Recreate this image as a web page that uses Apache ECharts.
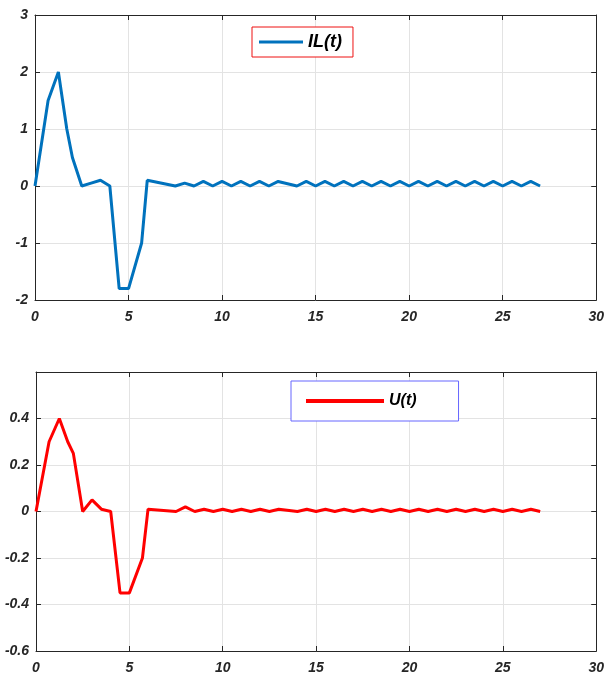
<!DOCTYPE html>
<html>
<head>
<meta charset="utf-8">
<script src="https://cdn.jsdelivr.net/npm/echarts@6/dist/echarts.min.js"></script>
<style>
  html, body { margin: 0; padding: 0; background: #fff; }
  #main { width: 607px; height: 675px; }
</style>
</head>
<body>
<div id="main"></div>
<script>
// time samples (shared by both plots)
const timeT = [0, 0.7, 1.25, 1.7, 2, 2.5, 3, 3.5, 4, 4.5, 5, 5.7, 6, 7.5, 8, 8.5,
  9, 9.5, 10, 10.5, 11, 11.5, 12, 12.5, 13, 14, 14.5, 15, 15.5, 16, 16.5, 17,
  17.5, 18, 18.5, 19, 19.5, 20, 20.5, 21, 21.5, 22, 22.5, 23, 23.5, 24, 24.5,
  25, 25.5, 26, 26.5, 27];
// IL(t)
const ilValues = [0, 1.5, 2, 1, 0.5, 0, 0.05, 0.1, 0, -1.8, -1.8, -1, 0.1, 0, 0.05, 0,
  0.08, 0, 0.08, 0, 0.08, 0, 0.08, 0, 0.08, 0, 0.08, 0, 0.08, 0, 0.08, 0,
  0.08, 0, 0.08, 0, 0.08, 0, 0.08, 0, 0.08, 0, 0.08, 0, 0.08, 0, 0.08,
  0, 0.08, 0, 0.08, 0];
// U(t)
const uValues = [0, 0.3, 0.4, 0.3, 0.25, 0, 0.05, 0.01, 0, -0.35, -0.35, -0.2, 0.01, 0, 0.02, 0,
  0.01, 0, 0.01, 0, 0.01, 0, 0.01, 0, 0.01, 0, 0.01, 0, 0.01, 0, 0.01, 0,
  0.01, 0, 0.01, 0, 0.01, 0, 0.01, 0, 0.01, 0, 0.01, 0, 0.01, 0, 0.01,
  0, 0.01, 0, 0.01, 0];
const xTicks = { min: 0, max: 30, interval: 5 };
const ilTicks = { min: -2, max: 3, interval: 1 };
const uTicks = { min: -0.6, max: 0.6, interval: 0.2 };

const myChart = echarts.init(document.getElementById("main"), null, { renderer: "canvas" });

const axisColor = "#262626";
const labelStyle = {
  color: axisColor,
  fontFamily: "Liberation Sans, Arial, sans-serif",
  fontWeight: "bold",
  fontStyle: "italic",
  fontSize: 14,
};

function mainX(gridIndex) {
  return {
    type: "value", gridIndex: gridIndex, ...xTicks,
    axisLine: { onZero: false, lineStyle: { color: axisColor, width: 1 } },
    axisTick: { inside: true, length: 5, lineStyle: { color: axisColor } },
    axisLabel: { ...labelStyle, margin: 10 },
    splitLine: { show: true, lineStyle: { color: "#e3e3e3", width: 1 } },
  };
}
// top edge of the box (no labels)
function boxX(gridIndex) {
  return {
    type: "value", gridIndex: gridIndex, position: "top", ...xTicks, z: 3,
    axisLine: { onZero: false, lineStyle: { color: axisColor, width: 1 } },
    axisTick: { inside: true, length: 5, lineStyle: { color: axisColor } },
    axisLabel: { show: false },
    splitLine: { show: false },
  };
}
function mainY(gridIndex, ticks, showMax) {
  return {
    type: "value", gridIndex: gridIndex, ...ticks,
    axisLine: { show: true, onZero: false, lineStyle: { color: axisColor, width: 1 } },
    axisTick: { show: true, inside: true, length: 5, lineStyle: { color: axisColor } },
    axisLabel: { ...labelStyle, margin: 7, showMaxLabel: showMax },
    splitLine: { show: true, lineStyle: { color: "#e3e3e3", width: 1 } },
  };
}
// right edge of the box (no labels)
function boxY(gridIndex, ticks) {
  return {
    type: "value", gridIndex: gridIndex, position: "right", ...ticks, z: 3,
    axisLine: { show: true, onZero: false, lineStyle: { color: axisColor, width: 1 } },
    axisTick: { show: true, inside: true, length: 5, lineStyle: { color: axisColor } },
    axisLabel: { show: false },
    splitLine: { show: false },
  };
}

const legendText = {
  color: "#000",
  fontFamily: "Liberation Sans, Arial, sans-serif",
  fontWeight: "bold",
  fontStyle: "italic",
};

myChart.setOption({
  animation: false,
  backgroundColor: "#fff",
  grid: [
    { left: 35, right: 8, top: 15, height: 285 },
    { left: 36, right: 8, top: 372, height: 279 },
  ],
  xAxis: [mainX(0), boxX(0), mainX(1), boxX(1)],
  yAxis: [mainY(0, ilTicks, true), boxY(0, ilTicks), mainY(1, uTicks, false), boxY(1, uTicks)],
  legend: [
    {
      data: ["IL(t)"],
      left: 252, top: 27,
      padding: [6, 11, 6, 7],
      borderColor: "#ee1111", borderWidth: 1, borderRadius: 0,
      backgroundColor: "#fff",
      icon: "rect", itemWidth: 44, itemHeight: 3,
      textStyle: { ...legendText, fontSize: 18 },
    },
    {
      data: ["U(t)"],
      left: 291, top: 381,
      padding: [12, 42, 12, 15],
      borderColor: "#6666ff", borderWidth: 1, borderRadius: 0,
      backgroundColor: "#fff",
      icon: "rect", itemWidth: 78, itemHeight: 4,
      textStyle: { ...legendText, fontSize: 16 },
    },
  ],
  series: [
    {
      name: "IL(t)", type: "line", xAxisIndex: 0, yAxisIndex: 0,
      data: timeT.map((t, i) => [t, ilValues[i]]),
      showSymbol: false, symbol: "none",
      itemStyle: { color: "#0072BD" },
      lineStyle: { color: "#0072BD", width: 3 },
    },
    {
      name: "U(t)", type: "line", xAxisIndex: 2, yAxisIndex: 2,
      data: timeT.map((t, i) => [t, uValues[i]]),
      showSymbol: false, symbol: "none",
      itemStyle: { color: "#ff0000" },
      lineStyle: { color: "#ff0000", width: 3 },
    },
  ],
});
</script>
</body>
</html>
